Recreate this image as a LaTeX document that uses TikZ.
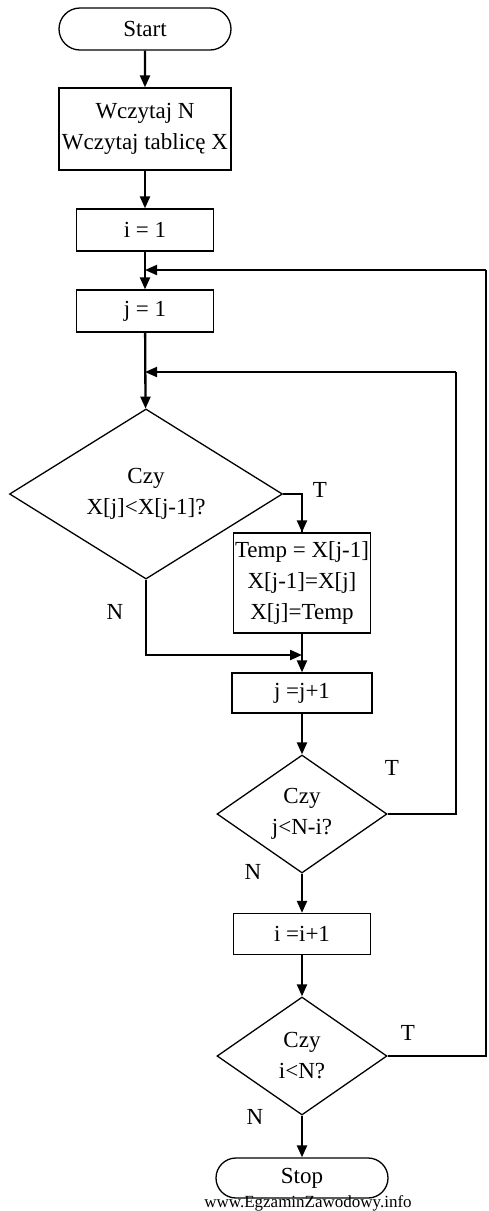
\documentclass[tikz,border=0pt]{standalone}
\usepackage{fontspec}
\setmainfont{Liberation Serif}
\usetikzlibrary{shapes.geometric,shapes.misc,arrows.meta}
\begin{document}
\begin{tikzpicture}[x=1pt,y=-1pt,
  txt/.style={font=\fontsize{23}{31}\selectfont},
  term/.style={txt,draw,line width=1.3pt,rounded rectangle,minimum width=172pt,minimum height=42pt,inner sep=0pt},
  proc/.style={txt,draw,line width=1.3pt,rectangle,align=center,inner sep=0pt},
  dec/.style={txt,draw,line width=1.3pt,diamond,align=center,inner sep=0pt},
  flow/.style={line width=2.3pt,-{Triangle[length=12pt,width=10pt]}},
  side/.style={line width=1.4pt},
  sidearr/.style={line width=1.9pt,-{Triangle[length=12pt,width=10pt]}},
  lab/.style={txt,inner sep=0pt}]
\useasboundingbox (0,0) rectangle (488,1211);
\node[term] (start) at (145,29) {Start};
\node[proc,minimum width=172pt,minimum height=82pt] (read) at (145,129) {Wczytaj N\\Wczytaj tablicę X};
\node[proc,minimum width=137pt,minimum height=42pt] (i1) at (145,230) {i = 1};
\node[proc,minimum width=137pt,minimum height=42pt] (j1) at (145,311) {j = 1};
\node[dec,minimum width=273pt,minimum height=159pt] (d1) at (146,494) {Czy\\X[j]<X[j-1]?};
\node[proc,minimum width=137pt,minimum height=100pt] (temp) at (302,583) {Temp = X[j-1]\\X[j-1]=X[j]\\X[j]=Temp};
\node[proc,minimum width=140pt,minimum height=40pt] (jinc) at (302,693) {j =j+1};
\node[dec,minimum width=170pt,minimum height=118pt] (d2) at (302,814) {Czy\\j<N-i?};
\node[proc,minimum width=137pt,minimum height=41pt] (iinc) at (302,934) {i =i+1};
\node[dec,minimum width=170pt,minimum height=118pt] (d3) at (302,1056) {Czy\\i<N?};
\node[term,minimum height=40pt] (stop) at (302,1178) {Stop};
\coordinate (m1) at (145,270);
\coordinate (m2) at (145,372);
\coordinate (m3) at (302,655);
\coordinate (r1) at (486,1056);
\coordinate (r2) at (456,814);
\draw[flow] (start) -- (read);
\draw[flow] (read) -- (i1);
\draw[flow] (i1) -- (j1);
\draw[flow] (j1) -- (d1);
\draw[side] (d1.east) -| (temp.north);
\draw[flow] (temp.north |- d1.east) -- (temp.north);
\draw[flow] (d1.south) |- (m3);
\draw[flow] (temp) -- (jinc);
\draw[flow] (jinc) -- (d2);
\draw[flow] (d2) -- (iinc);
\draw[flow] (iinc) -- (d3);
\draw[flow] (d3) -- (stop);
\draw[side] (d2.east) -- (r2) -- (r2 |- m2);
\draw[sidearr] (r2 |- m2) -- (m2);
\draw[side] (d3.east) -- (r1) -- (r1 |- m1);
\draw[sidearr] (r1 |- m1) -- (m1);
\node[lab] (t1) at (320,490) {T};
\node[lab] (n1) at (115,612) {N};
\node[lab] (t2) at (392,768) {T};
\node[lab] (n2) at (253,872) {N};
\node[lab] (t3) at (408,1033) {T};
\node[lab] (n3) at (255,1117) {N};
\node[inner sep=0pt,font=\fontsize{17}{17}\selectfont] (wm) at (308,1203) {www.EgzaminZawodowy.info};
\end{tikzpicture}
\end{document}
